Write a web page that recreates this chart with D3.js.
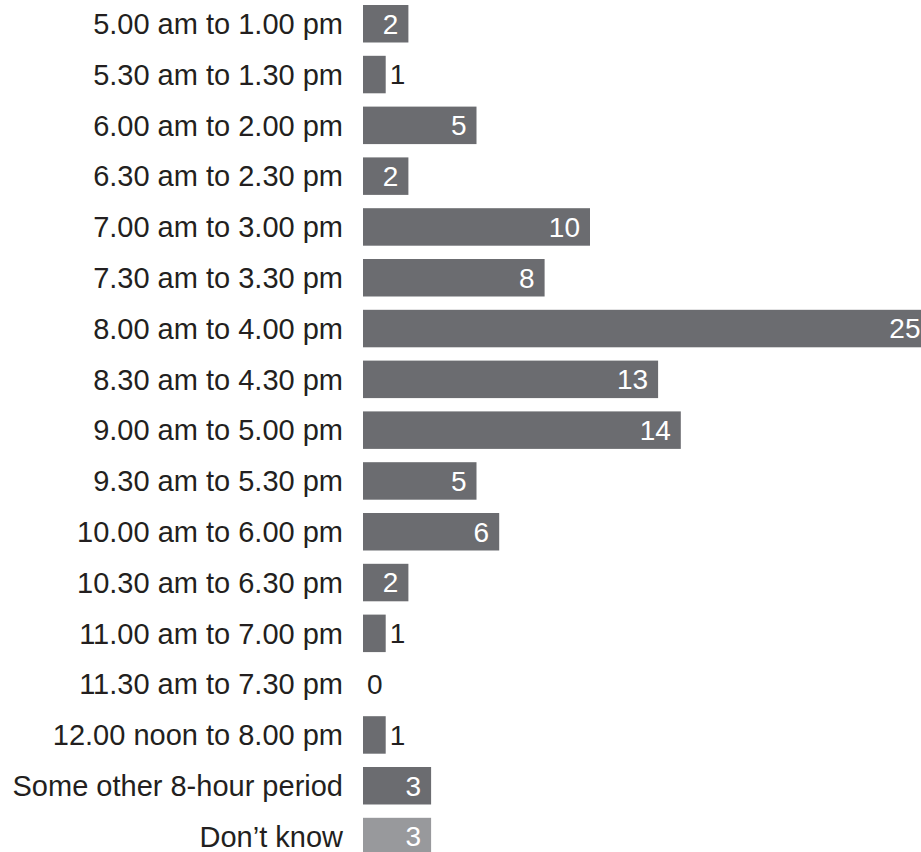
<!DOCTYPE html>
<html>
<head>
<meta charset="utf-8">
<script src="https://cdn.jsdelivr.net/npm/d3@7"></script>
<style>
  html, body { margin: 0; padding: 0; background: #fff; overflow: hidden; }
  svg { display: block; font-family: "Liberation Sans", Arial, sans-serif; }
</style>
</head>
<body>
<script>
// Preferred 8-hour working periods (number of respondents)
const categories = [
  "5.00 am to 1.00 pm",
  "5.30 am to 1.30 pm",
  "6.00 am to 2.00 pm",
  "6.30 am to 2.30 pm",
  "7.00 am to 3.00 pm",
  "7.30 am to 3.30 pm",
  "8.00 am to 4.00 pm",
  "8.30 am to 4.30 pm",
  "9.00 am to 5.00 pm",
  "9.30 am to 5.30 pm",
  "10.00 am to 6.00 pm",
  "10.30 am to 6.30 pm",
  "11.00 am to 7.00 pm",
  "11.30 am to 7.30 pm",
  "12.00 noon to 8.00 pm",
  "Some other 8-hour period",
  "Don\u2019t know"
];
const values = [2, 1, 5, 2, 10, 8, 25, 13, 14, 5, 6, 2, 1, 0, 1, 3, 3];

const width = 921, height = 852;
const barColor = "#6b6c70";
const unknownColor = "#98999c";
const labelSize = 29;
const valueSize = 28;

const svg = d3.select("body").append("svg")
  .attr("width", width)
  .attr("height", height);

const x = d3.scaleLinear()
  .domain([0, 25])
  .range([363, 363 + 567.5]);

const y = d3.scaleBand()
  .domain(categories)
  .range([-1.65, -1.65 + 17 * 50.8])
  .paddingInner(0.262)
  .paddingOuter(0.131);

const rows = svg.selectAll("g.row")
  .data(categories.map((c, i) => ({ cat: c, value: values[i] })))
  .join("g")
  .attr("class", "row");

// category labels
rows.append("text")
  .attr("x", 343)
  .attr("y", d => y(d.cat) + y.bandwidth() / 2)
  .attr("dy", "0.35em")
  .attr("text-anchor", "end")
  .attr("font-size", labelSize)
  .attr("fill", "#231f20")
  .text(d => d.cat);

// bars
rows.append("rect")
  .attr("x", x(0))
  .attr("y", d => y(d.cat))
  .attr("width", d => x(d.value) - x(0))
  .attr("height", y.bandwidth())
  .attr("fill", d => d.cat === "Don\u2019t know" ? unknownColor : barColor);

// value labels: inside (white) for wider bars, outside (dark) for small ones
rows.append("text")
  .attr("x", d => d.value >= 2 ? x(d.value) - 10 : x(d.value) + 4)
  .attr("y", d => y(d.cat) + y.bandwidth() / 2)
  .attr("dy", "0.35em")
  .attr("text-anchor", d => d.value >= 2 ? "end" : "start")
  .attr("font-size", valueSize)
  .attr("fill", d => d.value >= 2 ? "#ffffff" : "#231f20")
  .text(d => d.value);
</script>
</body>
</html>
